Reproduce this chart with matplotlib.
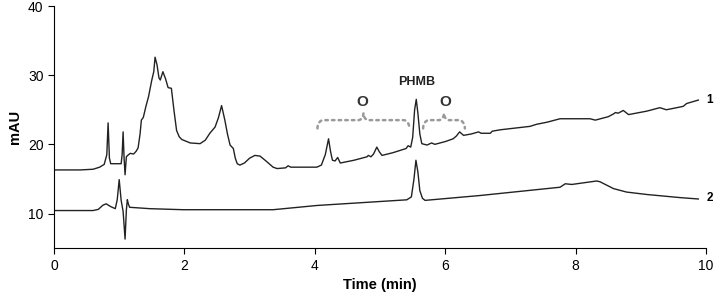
import matplotlib.pyplot as plt
import numpy as np

plt.rcParams['font.family'] = ['Liberation Sans', 'DejaVu Sans']

# trace 1 (sample)
t1 = [0.0, 0.4, 0.6, 0.7, 0.77, 0.81, 0.83, 0.85, 0.87, 1.03, 1.045, 1.06, 1.075, 1.09,
      1.11, 1.13, 1.17, 1.22, 1.26, 1.29, 1.32, 1.34, 1.37, 1.41, 1.45, 1.5, 1.53, 1.55,
      1.58, 1.61, 1.63, 1.67, 1.71, 1.75, 1.80, 1.84, 1.88, 1.92, 1.96, 2.09, 2.24, 2.32,
      2.39, 2.47, 2.52, 2.57, 2.62, 2.66, 2.70, 2.75, 2.78, 2.81, 2.85, 2.92, 3.0, 3.08,
      3.16, 3.25, 3.36, 3.42, 3.55, 3.59, 3.63, 4.03, 4.10, 4.16, 4.21, 4.24, 4.27, 4.31,
      4.35, 4.39, 4.6, 4.8, 4.82, 4.86, 4.90, 4.95, 4.99, 5.03, 5.2, 5.40, 5.43, 5.47,
      5.50, 5.53, 5.555, 5.58, 5.61, 5.64, 5.72, 5.79, 5.84, 6.0, 6.12, 6.17, 6.22, 6.28,
      6.4, 6.51, 6.55, 6.69, 6.72, 6.84, 7.30, 7.4, 7.56, 7.76, 8.22, 8.30, 8.5, 8.58,
      8.61, 8.65, 8.73, 8.81, 9.09, 9.29, 9.39, 9.55, 9.65, 9.70, 9.88]
y1 = [16.3, 16.3, 16.4, 16.7, 17.1, 18.5, 23.1, 18.0, 17.2, 17.2, 18.5, 21.8, 18.0, 15.6,
      18.2, 18.4, 18.7, 18.6, 19.0, 19.5, 21.5, 23.5, 23.9, 25.5, 26.9, 29.3, 30.5, 32.6,
      31.5, 29.6, 29.3, 30.5, 29.5, 28.2, 28.1, 24.9, 22.0, 21.1, 20.7, 20.2, 20.1, 20.6,
      21.6, 22.5, 23.8, 25.6, 23.5, 21.5, 19.9, 19.4, 18.0, 17.2, 17.0, 17.3, 18.0, 18.4,
      18.3, 17.6, 16.7, 16.5, 16.6, 16.9, 16.7, 16.7, 17.0, 18.5, 20.8, 19.0, 17.7, 17.6,
      18.1, 17.3, 17.7, 18.2, 18.4, 18.2, 18.6, 19.6, 18.9, 18.4, 18.8, 19.4, 19.8, 19.6,
      21.0, 25.0, 26.5, 24.5, 21.5, 20.1, 19.9, 20.2, 20.0, 20.4, 20.8, 21.2, 21.8, 21.3,
      21.5, 21.8, 21.6, 21.6, 21.9, 22.1, 22.6, 22.9, 23.2, 23.7, 23.7, 23.5, 24.0, 24.4,
      24.6, 24.5, 24.9, 24.3, 24.8, 25.3, 25.0, 25.3, 25.5, 25.9, 26.4]

# trace 2 (standard)
t2 = [0.0, 0.6, 0.68, 0.75, 0.80, 0.87, 0.94, 0.97, 1.00, 1.03, 1.06, 1.09, 1.11, 1.125,
      1.14, 1.16, 1.47, 1.98, 2.85, 3.36, 4.03, 5.41, 5.48, 5.52, 5.55, 5.58, 5.61, 5.65,
      5.69, 6.53, 7.76, 7.84, 7.94, 8.32, 8.37, 8.58, 8.78, 9.09, 9.60, 9.88]
y2 = [10.43, 10.43, 10.6, 11.2, 11.4, 11.0, 10.7, 12.0, 14.9, 11.9, 10.3, 6.3, 10.5, 12.0,
      11.4, 10.9, 10.7, 10.55, 10.55, 10.55, 11.16, 11.98, 12.4, 15.0, 17.7, 16.0, 13.3, 12.2,
      11.9, 12.6, 13.8, 14.3, 14.2, 14.7, 14.6, 13.6, 13.1, 12.75, 12.3, 12.1]


def brace(ax, x0, x1, y, r=0.09, d=1.2, rt=0.08, dt=1.0):
    # curly brace built from quarter ellipses
    xm = (x0 + x1) / 2
    th = np.linspace(0, np.pi / 2, 20)
    left_end = (x0 + r * (1 - np.cos(th)), y - d * (1 - np.sin(th)))
    left_tip = (xm - rt + rt * np.sin(th), y + dt * (1 - np.cos(th)))
    xs = np.concatenate([left_end[0], left_tip[0]])
    ys = np.concatenate([left_end[1], left_tip[1]])
    xs = np.concatenate([xs, 2 * xm - xs[::-1]])
    ys = np.concatenate([ys, ys[::-1]])
    ax.plot(xs, ys, color='#9a9a9a', linestyle=':', linewidth=1.8, dash_capstyle='round')


fig = plt.figure(figsize=(7.14, 3.0), dpi=100)
ax = fig.add_axes([0.0756, 0.173, 0.9134, 0.807])

ax.plot(t1, y1, color='#222222', linewidth=1.0)
ax.plot(t2, y2, color='#222222', linewidth=1.0)

brace(ax, 4.04, 5.45, 23.5)
brace(ax, 5.66, 6.30, 23.5)
ax.text(4.73, 26.1, 'O', ha='center', va='center', fontsize=11, fontweight='bold', color='#333333')
ax.text(6.0, 26.1, 'O', ha='center', va='center', fontsize=11, fontweight='bold', color='#333333')
ax.text(5.56, 29.0, 'PHMB', ha='center', va='center', fontsize=9, fontweight='bold', color='#222222')
ax.text(10.0, 26.4, '1', ha='left', va='center', fontsize=8.5, fontweight='bold', clip_on=False)
ax.text(10.0, 12.2, '2', ha='left', va='center', fontsize=8.5, fontweight='bold', clip_on=False)

ax.set_xlim(0, 10)
ax.set_ylim(5, 40)
ax.set_xticks([0, 2, 4, 6, 8, 10])
ax.set_yticks([10, 20, 30, 40])
ax.spines['top'].set_visible(False)
ax.spines['right'].set_visible(False)
ax.tick_params(labelsize=10, length=4, direction='out')
ax.set_xlabel('Time (min)', fontsize=10.5, fontweight='bold')
ax.set_ylabel('mAU', fontsize=10.5, fontweight='bold')

plt.savefig('out.png', dpi=100)
